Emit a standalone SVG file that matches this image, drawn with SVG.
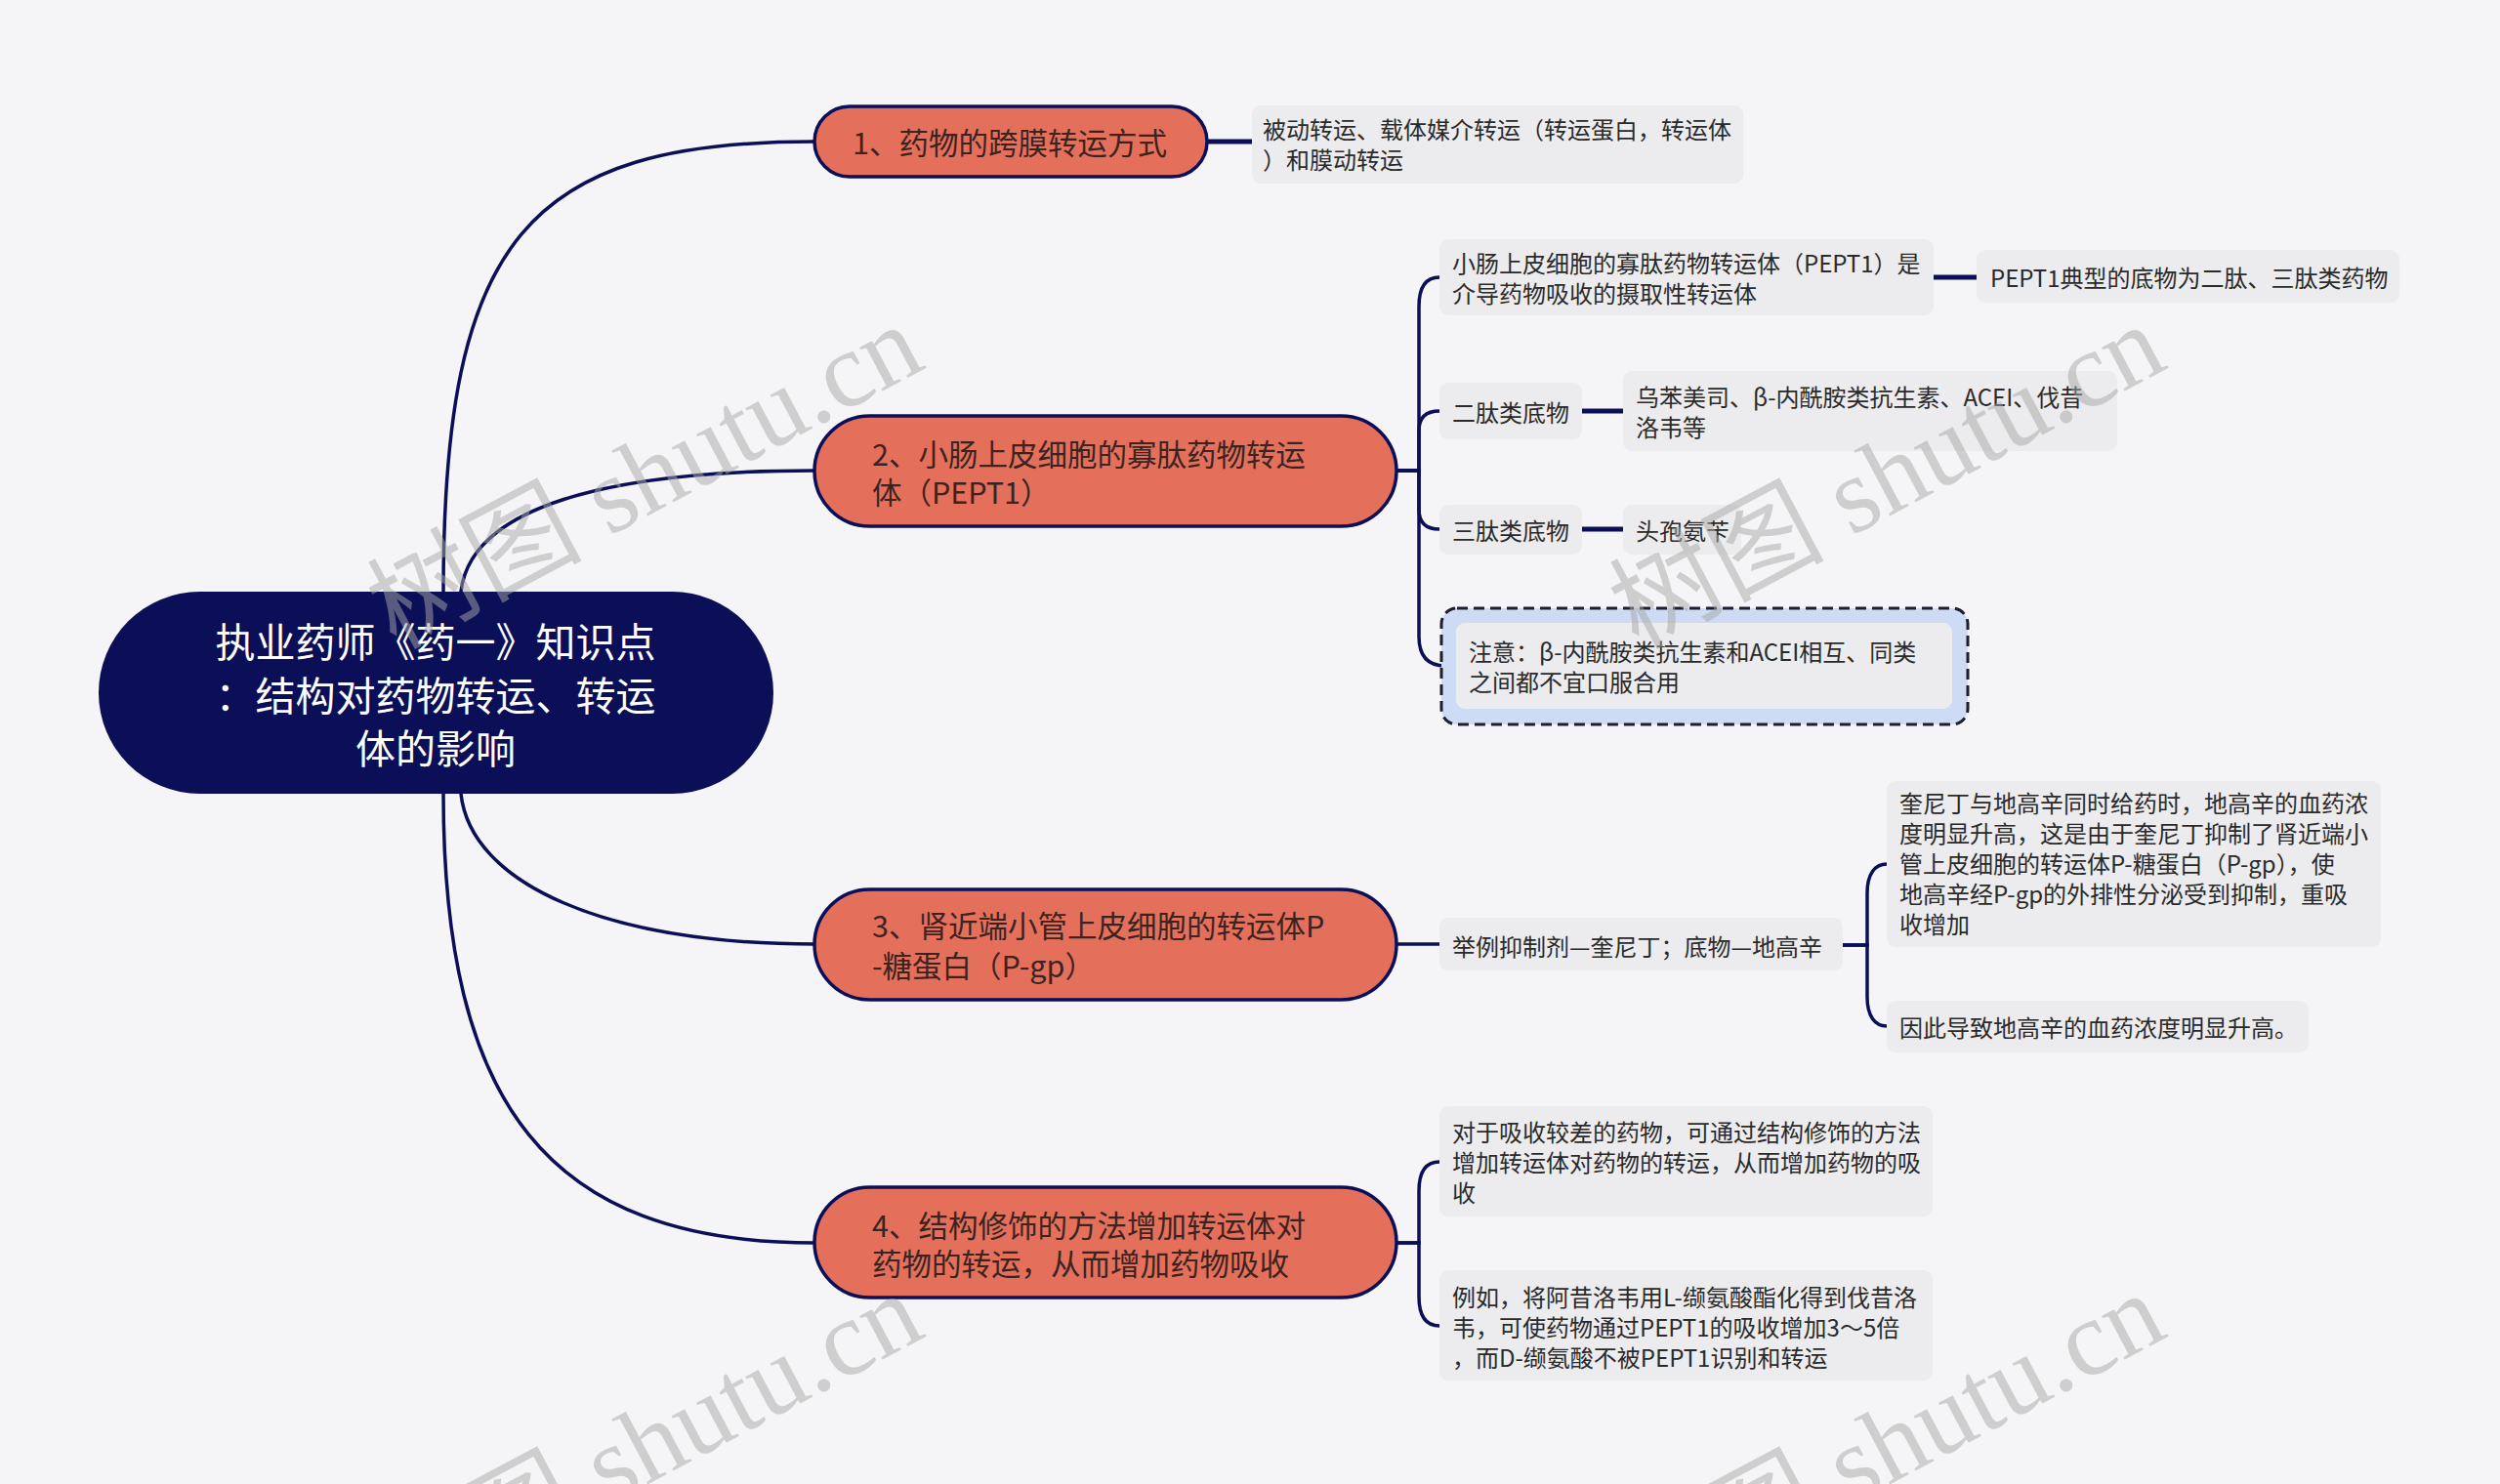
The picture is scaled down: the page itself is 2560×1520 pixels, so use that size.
<svg xmlns="http://www.w3.org/2000/svg" width="2560" height="1520" viewBox="0 0 2560 1520">
<style>
.bg{fill:#f5f5f7}
.conn{fill:none;stroke:#0b0f57;stroke-width:3.5;stroke-linecap:round}
.thick{fill:none;stroke:#0b0f57;stroke-width:5}
.root{fill:#0b0f57}
.br{fill:#e4705c;stroke:#0b0f57;stroke-width:3.5}
.leaf{fill:#ececee}
.t{font-family:"Noto Sans CJK SC","Noto Sans",sans-serif;dominant-baseline:central}
.tr{font-size:41px;fill:#ffffff;text-anchor:middle}
.tb{font-size:30.5px;fill:#3b2320}
.tl{font-size:24px;fill:#2a2a2a}
.wm{font-family:"Liberation Serif","Noto Sans CJK SC",serif;font-size:110px;fill:#a8a8a8;opacity:0.5}
</style>
<rect class="bg" x="0" y="0" width="2560" height="1520"/>
<g id="connectors">
<path class="conn" d="M454 606 C454 245 540 145 834 145"/>
<path class="conn" d="M472 606 C482 520 620 482 834 482"/>
<path class="conn" d="M472 813 C482 905 620 967 834 967"/>
<path class="conn" d="M454 813 C454 1130 560 1273 834 1273"/>
<path class="thick" d="M1236 145 H1282"/>
<path class="conn" d="M1430 482 H1453 V314 C1453 294 1460 284 1474 284"/>
<path class="conn" d="M1430 482 H1453 V441 C1453 428 1460 421 1474 421"/>
<path class="conn" d="M1430 482 H1453 V522 C1453 535 1460 542 1474 542"/>
<path class="conn" d="M1430 482 H1453 V652 C1453 672 1462 682 1480 682"/>
<path class="thick" d="M1980 284 H2024"/>
<path class="thick" d="M1620 421 H1662"/>
<path class="thick" d="M1620 542 H1662"/>
<path class="conn" d="M1430 967 H1474"/>
<path class="conn" d="M1887 968 H1912 V915 C1912 895 1920 885 1932 885"/>
<path class="conn" d="M1887 968 H1912 V1021 C1912 1041 1920 1051 1932 1051"/>
<path class="conn" d="M1430 1273 H1453 V1220 C1453 1200 1460 1190 1474 1190"/>
<path class="conn" d="M1430 1273 H1453 V1328 C1453 1348 1460 1358 1474 1358"/>
</g>
<g id="root">
<rect class="root" x="101" y="606" width="691" height="207" rx="103.5"/>
<text class="t tr" x="446" y="655">执业药师《药一》知识点</text>
<text class="t tr" x="446" y="710">：结构对药物转运、转运</text>
<text class="t tr" x="446" y="764">体的影响</text>
</g>
<g id="b1">
<rect class="br" x="834" y="109" width="402" height="72" rx="36"/>
<text class="t tb" x="873" y="145">1、药物的跨膜转运方式</text>
</g>
<g id="b1c1">
<rect class="leaf" x="1282" y="108" width="503" height="80" rx="9"/>
<text class="t tl" x="1293" y="131">被动转运、载体媒介转运（转运蛋白，转运体</text>
<text class="t tl" x="1293" y="162">）和膜动转运</text>
</g>
<g id="b2">
<rect class="br" x="834" y="426" width="596" height="113" rx="56.5"/>
<text class="t tb" x="893" y="464">2、小肠上皮细胞的寡肽药物转运</text>
<text class="t tb" x="893" y="503">体（PEPT1）</text>
</g>
<g id="b2c1">
<rect class="leaf" x="1474" y="245" width="506" height="78" rx="9"/>
<text class="t tl" x="1487" y="268">小肠上皮细胞的寡肽药物转运体（PEPT1）是</text>
<text class="t tl" x="1487" y="299">介导药物吸收的摄取性转运体</text>
</g>
<g id="b2c1c1">
<rect class="leaf" x="2024" y="256" width="433" height="54" rx="9"/>
<text class="t tl" x="2038" y="283">PEPT1典型的底物为二肽、三肽类药物</text>
</g>
<g id="b2c2">
<rect class="leaf" x="1474" y="392" width="146" height="58" rx="9"/>
<text class="t tl" x="1487" y="421">二肽类底物</text>
</g>
<g id="b2c2c1">
<rect class="leaf" x="1662" y="380" width="506" height="82" rx="9"/>
<text class="t tl" x="1675" y="405">乌苯美司、β-内酰胺类抗生素、ACEI、伐昔</text>
<text class="t tl" x="1675" y="436">洛韦等</text>
</g>
<g id="b2c3">
<rect class="leaf" x="1474" y="517" width="146" height="51" rx="9"/>
<text class="t tl" x="1487" y="542">三肽类底物</text>
</g>
<g id="b2c3c1">
<rect class="leaf" x="1662" y="517" width="121" height="51" rx="9"/>
<text class="t tl" x="1675" y="542">头孢氨苄</text>
</g>
<g id="b2c4">
<rect x="1476" y="623" width="539" height="119" rx="16" fill="#cddbf5" stroke="#1e1e2e" stroke-width="3" stroke-dasharray="11 6"/>
<rect class="leaf" x="1491" y="638" width="508" height="88" rx="9"/>
<text class="t tl" x="1504" y="666">注意：β-内酰胺类抗生素和ACEI相互、同类</text>
<text class="t tl" x="1504" y="697">之间都不宜口服合用</text>
</g>
<g id="b3">
<rect class="br" x="834" y="911" width="596" height="113" rx="56.5"/>
<text class="t tb" x="893" y="947">3、肾近端小管上皮细胞的转运体P</text>
<text class="t tb" x="893" y="988">-糖蛋白（P-gp）</text>
</g>
<g id="b3c1">
<rect class="leaf" x="1474" y="940" width="413" height="54" rx="9"/>
<text class="t tl" x="1487" y="968">举例抑制剂—奎尼丁；底物—地高辛</text>
</g>
<g id="b3c1c1">
<rect class="leaf" x="1932" y="800" width="506" height="170" rx="9"/>
<text class="t tl" x="1945" y="821">奎尼丁与地高辛同时给药时，地高辛的血药浓</text>
<text class="t tl" x="1945" y="852">度明显升高，这是由于奎尼丁抑制了肾近端小</text>
<text class="t tl" x="1945" y="883">管上皮细胞的转运体P-糖蛋白（P-gp），使</text>
<text class="t tl" x="1945" y="914">地高辛经P-gp的外排性分泌受到抑制，重吸</text>
<text class="t tl" x="1945" y="945">收增加</text>
</g>
<g id="b3c1c2">
<rect class="leaf" x="1932" y="1025" width="432" height="53" rx="9"/>
<text class="t tl" x="1945" y="1051">因此导致地高辛的血药浓度明显升高。</text>
</g>
<g id="b4">
<rect class="br" x="834" y="1216" width="596" height="113" rx="56.5"/>
<text class="t tb" x="893" y="1254">4、结构修饰的方法增加转运体对</text>
<text class="t tb" x="893" y="1293">药物的转运，从而增加药物吸收</text>
</g>
<g id="b4c1">
<rect class="leaf" x="1474" y="1133" width="505" height="113" rx="9"/>
<text class="t tl" x="1487" y="1158">对于吸收较差的药物，可通过结构修饰的方法</text>
<text class="t tl" x="1487" y="1189">增加转运体对药物的转运，从而增加药物的吸</text>
<text class="t tl" x="1487" y="1220">收</text>
</g>
<g id="b4c2">
<rect class="leaf" x="1474" y="1301" width="505" height="113" rx="9"/>
<text class="t tl" x="1487" y="1327">例如，将阿昔洛韦用L-缬氨酸酯化得到伐昔洛</text>
<text class="t tl" x="1487" y="1358">韦，可使药物通过PEPT1的吸收增加3～5倍</text>
<text class="t tl" x="1487" y="1389">，而D-缬氨酸不被PEPT1识别和转运</text>
</g>
<g id="watermarks">
<text class="wm" text-anchor="end" transform="translate(950 376) rotate(-28)">树图 shutu.cn</text>
<text class="wm" text-anchor="end" transform="translate(2222 376) rotate(-28)">树图 shutu.cn</text>
<text class="wm" text-anchor="end" transform="translate(950 1368) rotate(-28)">树图 shutu.cn</text>
<text class="wm" text-anchor="end" transform="translate(2222 1368) rotate(-28)">树图 shutu.cn</text>
</g>
</svg>
